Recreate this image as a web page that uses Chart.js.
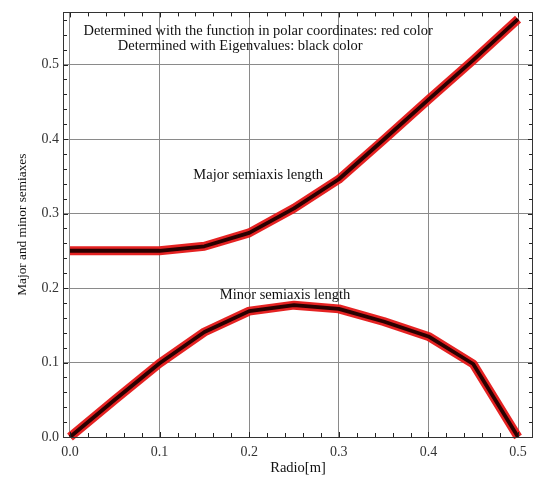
<!DOCTYPE html>
<html>
<head>
<meta charset="utf-8">
<script src="https://cdn.jsdelivr.net/npm/chart.js@4/dist/chart.umd.min.js"></script>
<style>
html,body{margin:0;padding:0;background:#fff;}
#wrap{width:535px;height:481px;position:relative;}
</style>
</head>
<body>
<div id="wrap"><canvas id="c" width="535" height="481"></canvas></div>
<script>
const radius = [0, 0.05, 0.1, 0.15, 0.2, 0.25, 0.3, 0.35, 0.4, 0.45, 0.5];
const majorSemiaxis = [0.250, 0.250, 0.250, 0.256, 0.274, 0.307, 0.346, 0.399, 0.453, 0.506, 0.561];
const minorSemiaxis = [0.000, 0.050, 0.099, 0.141, 0.169, 0.177, 0.172, 0.155, 0.135, 0.098, 0.000];
const xTicks = [0, 0.1, 0.2, 0.3, 0.4, 0.5];
const yTicks = [0, 0.1, 0.2, 0.3, 0.4, 0.5];
const notes = [
  "Determined with the function in polar coordinates: red color",
  "Determined with Eigenvalues: black color",
  "Major semiaxis length",
  "Minor semiaxis length"
];

const pts = arr => radius.map((r, i) => ({x: r, y: arr[i]}));
const SERIF = "'Liberation Serif', 'DejaVu Serif', serif";

const frameAndMinor = {
  id: 'frameAndMinor',
  afterDatasetsDraw(chart) {
    const {ctx, chartArea: a, scales: {x, y}} = chart;
    ctx.save();
    ctx.strokeStyle = '#222';
    ctx.lineWidth = 1;
    ctx.beginPath();
    for (let i = 0; i <= 26; i++) {
      const v = i * 0.02;
      if (v > x.max) break;
      const px = Math.round(x.getPixelForValue(v)) + 0.5;
      const len = (i % 5 === 0) ? 5 : 4;
      ctx.moveTo(px, a.bottom); ctx.lineTo(px, a.bottom - len);
      ctx.moveTo(px, a.top); ctx.lineTo(px, a.top + len);
    }
    for (let i = 0; i <= 28; i++) {
      const v = i * 0.02;
      if (v > y.max) break;
      const py = Math.round(y.getPixelForValue(v)) + 0.5;
      const len = (i % 5 === 0) ? 5 : 4;
      ctx.moveTo(a.left, py); ctx.lineTo(a.left + len, py);
      ctx.moveTo(a.right, py); ctx.lineTo(a.right - len, py);
    }
    ctx.stroke();
    ctx.strokeStyle = '#333';
    ctx.strokeRect(Math.round(a.left) + 0.5, Math.round(a.top) + 0.5, Math.round(a.right - a.left) - 1, Math.round(a.bottom - a.top));
    ctx.restore();
  },
  afterDraw(chart) {
    const {ctx, scales: {x, y}} = chart;
    ctx.save();
    ctx.fillStyle = '#111';
    ctx.textAlign = 'center';
    ctx.textBaseline = 'middle';
    ctx.font = '14.5px ' + SERIF;
    ctx.fillText(notes[0], x.getPixelForValue(0.21), y.getPixelForValue(0.545));
    ctx.fillText(notes[1], x.getPixelForValue(0.19), y.getPixelForValue(0.525));
    ctx.fillText(notes[2], x.getPixelForValue(0.21), y.getPixelForValue(0.351));
    ctx.fillText(notes[3], x.getPixelForValue(0.240), y.getPixelForValue(0.191));
    ctx.restore();
  }
};

const lineDs = (data, color, width, order) => ({
  data, borderColor: color, backgroundColor: color, borderWidth: width,
  pointRadius: 0, tension: 0, clip: false, fill: false, order,
  borderCapStyle: 'butt', borderJoinStyle: 'round'
});

new Chart(document.getElementById('c'), {
  type: 'line',
  data: {
    datasets: [
      lineDs(pts(majorSemiaxis), 'rgba(228,22,22,0.95)', 9, 2),
      lineDs(pts(minorSemiaxis), 'rgba(228,22,22,0.95)', 9, 2),
      lineDs(pts(majorSemiaxis), '#2a0000', 3.8, 1),
      lineDs(pts(minorSemiaxis), '#2a0000', 3.8, 1)
    ]
  },
  options: {
    responsive: false,
    animation: false,
    layout: {padding: {top: 7, right: 2, left: 0, bottom: 0}},
    plugins: {legend: {display: false}, tooltip: {enabled: false}},
    scales: {
      x: {
        type: 'linear', min: -0.0078, max: 0.5167,
        afterBuildTicks: s => { s.ticks = xTicks.map(v => ({value: v})); },
        afterFit: s => { s.height = 44; },
        border: {display: false},
        grid: {color: '#8a8a8a', lineWidth: 1, drawTicks: false},
        ticks: {
          padding: 7, color: '#333', font: {family: SERIF, size: 14},
          maxRotation: 0, callback: v => Number(v).toFixed(1)
        },
        title: {display: true, text: 'Radio[m]', color: '#111', font: {family: SERIF, size: 14.5}, padding: {top: 0, bottom: 4}}
      },
      y: {
        type: 'linear', min: 0, max: 0.570,
        afterBuildTicks: s => { s.ticks = yTicks.map(v => ({value: v})); },
        afterFit: s => { s.width = 63; },
        border: {display: false},
        grid: {color: '#8a8a8a', lineWidth: 1, drawTicks: false},
        ticks: {
          padding: 4, color: '#333', font: {family: SERIF, size: 14},
          callback: v => Number(v).toFixed(1)
        },
        title: {display: true, text: 'Major and minor semiaxes', color: '#111', font: {family: SERIF, size: 13.3}, padding: {top: 15, bottom: 0}}
      }
    }
  },
  plugins: [frameAndMinor]
});
</script>
</body>
</html>
